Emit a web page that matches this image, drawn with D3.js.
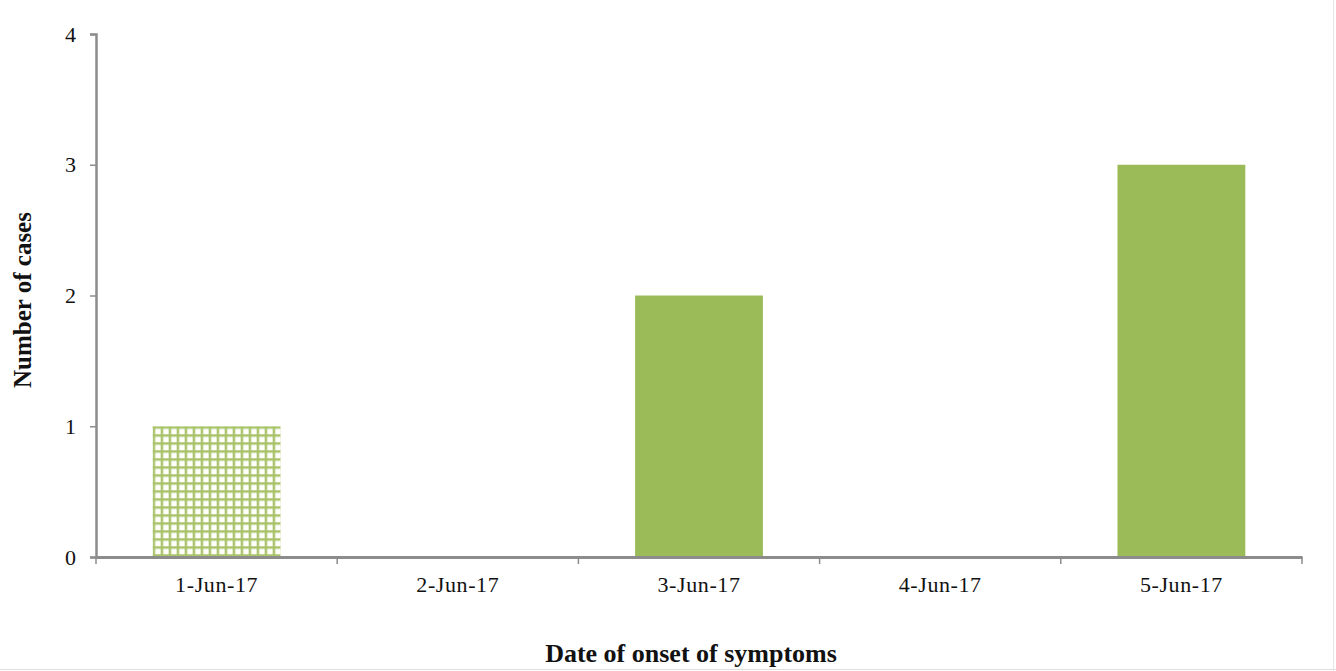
<!DOCTYPE html>
<html><head><meta charset="utf-8">
<script src="https://cdn.jsdelivr.net/npm/d3@7"></script>
<style>body{margin:0;background:#fff}svg{display:block}</style>
</head><body>
<svg id="c" width="1336" height="671"></svg>
<script>
const categories = ["1-Jun-17","2-Jun-17","3-Jun-17","4-Jun-17","5-Jun-17"];
const cases = [1, 0, 2, 0, 3];
const patterned = [true, false, false, false, false];
const yTicks = [0, 1, 2, 3, 4];

const svg = d3.select("#c");
const W = 1336, H = 671;
const m = {left: 96, right: 34, top: 34, bottom: 114};
const x = d3.scaleBand().domain(categories).range([m.left, W - m.right]).paddingInner(0.47).paddingOuter(0.235);
const y = d3.scaleLinear().domain([0, 4]).range([H - m.bottom, m.top]);

const defs = svg.append("defs");
const pat = defs.append("pattern").attr("id","grid").attr("patternUnits","userSpaceOnUse")
  .attr("width",8).attr("height",8).attr("x", x(categories[0])).attr("y", y(1));
pat.append("rect").attr("width",8).attr("height",8).attr("fill","#fff");
pat.append("rect").attr("x",0).attr("y",0).attr("width",2.5).attr("height",8).attr("fill","#a9c46a");
pat.append("rect").attr("x",0).attr("y",0).attr("width",8).attr("height",2.5).attr("fill","#a9c46a");

// bars
svg.append("g").selectAll("rect").data(categories).join("rect")
  .attr("x", d => x(d))
  .attr("width", x.bandwidth())
  .attr("y", (d,i) => y(cases[i]))
  .attr("height", (d,i) => y(0) - y(cases[i]))
  .attr("fill", (d,i) => patterned[i] ? "url(#grid)" : "#9bbb59");

// y axis
const ya = svg.append("g").attr("transform", `translate(${m.left},0)`)
  .call(d3.axisLeft(y).tickValues(yTicks).tickFormat(d3.format("d")).tickSize(6).tickPadding(14));
ya.select(".domain").attr("stroke","#8c8c8c").attr("stroke-width",2.5);
ya.selectAll(".tick line").attr("stroke","#8c8c8c").attr("stroke-width",1.5);
ya.selectAll(".tick text").attr("font-family","Liberation Serif").attr("font-size",22).attr("fill","#111");

// x axis with category boundary ticks
const xa = svg.append("g").attr("transform", `translate(0,${y(0)})`)
  .call(d3.axisBottom(x).tickSize(0).tickPadding(19));
xa.select(".domain").attr("stroke","#8c8c8c").attr("stroke-width",3);
xa.selectAll(".tick text").attr("font-family","Liberation Serif").attr("font-size",22)
  .attr("letter-spacing", 0.6).attr("fill","#111");
const step = (W - m.right - m.left) / categories.length;
xa.selectAll("line.b").data(d3.range(categories.length + 1)).join("line").attr("class","b")
  .attr("x1", i => m.left + i*step).attr("x2", i => m.left + i*step)
  .attr("y1", 0).attr("y2", 7).attr("stroke","#8c8c8c").attr("stroke-width",1.5);

// titles
svg.append("text").attr("x", 691).attr("y", 662).attr("text-anchor","middle")
  .attr("font-family","Liberation Serif").attr("font-weight","bold").attr("font-size",26).attr("fill","#111")
  .text("Date of onset of symptoms");
svg.append("text").attr("transform","translate(31,300) rotate(-90)").attr("text-anchor","middle")
  .attr("font-family","Liberation Serif").attr("font-weight","bold").attr("font-size",25).attr("fill","#111")
  .text("Number of cases");

// faint image borders
svg.append("line").attr("x1",0).attr("x2",W).attr("y1",669.5).attr("y2",669.5).attr("stroke","#ddd");
svg.append("line").attr("x1",1333.5).attr("x2",1333.5).attr("y1",0).attr("y2",H).attr("stroke","#e6e6e6");
</script>
</body></html>
